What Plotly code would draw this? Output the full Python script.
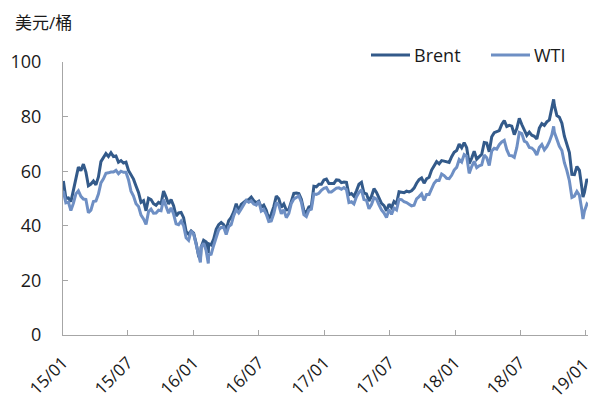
import pandas as pd
import plotly.graph_objects as go

# Weekly (Friday) closing prices, USD/bbl, 2015-01-02 .. 2019-01-04
brent_weekly = [
    # 2015
    56.4, 50.1, 50.2, 48.8, 53.0, 57.8, 61.5, 60.2, 62.6, 59.7, 54.7, 55.3, 56.4,
    55.0, 57.9, 63.5, 65.3, 66.5, 65.4, 66.8, 65.4, 65.6, 63.3, 63.9, 63.0, 63.3,
    60.3, 58.7, 57.1, 54.6, 52.2, 48.6, 49.2, 45.5, 50.1, 49.6, 48.1, 47.5, 48.6,
    48.1, 52.7, 50.5, 48.0, 49.6, 47.4, 43.6, 44.7, 44.9, 43.0, 37.9, 36.9, 38.1,
    # 2016
    37.3, 33.6, 28.9, 32.2, 34.7, 34.1, 33.4, 33.0, 35.1, 38.7, 40.4, 41.2, 40.4,
    38.7, 41.9, 43.1, 45.1, 48.1, 45.4, 47.8, 48.7, 49.3, 49.6, 50.5, 49.2, 48.4,
    49.0, 46.8, 47.6, 45.7, 42.5, 44.3, 47.0, 50.9, 49.9, 46.8, 48.0, 45.8, 45.9,
    49.1, 51.9, 52.0, 51.8, 49.7, 45.6, 44.8, 46.9, 47.2, 54.5, 54.3, 55.2, 55.2,
    56.8,
    # 2017
    57.1, 55.5, 55.5, 55.5, 56.8, 56.7, 55.8, 56.0, 55.9, 51.4, 51.8, 50.8, 52.8,
    55.2, 55.9, 52.0, 51.7, 49.1, 50.8, 53.6, 52.2, 50.0, 48.2, 47.4, 45.5, 47.9,
    46.7, 48.9, 48.1, 52.5, 52.4, 52.1, 52.7, 52.4, 52.8, 53.8, 55.6, 56.9, 57.5,
    55.6, 57.2, 57.8, 60.4, 62.1, 63.5, 62.7, 63.9, 63.7, 63.4, 63.2, 65.3, 66.9,
    # 2018
    67.6, 69.9, 68.6, 70.5, 68.6, 62.8, 64.8, 67.3, 64.4, 65.5, 66.2, 70.5, 70.3,
    67.1, 72.6, 74.1, 74.6, 74.9, 77.1, 78.5, 76.4, 76.8, 76.5, 73.4, 75.6, 79.4,
    77.1, 75.3, 73.1, 74.3, 73.2, 72.8, 71.8, 75.8, 77.4, 76.8, 78.1, 78.8, 82.7,
    84.2, 80.4, 79.8, 77.6, 72.8, 70.2, 66.8, 58.8, 58.7, 61.7, 60.3, 53.8, 52.2,
    # 2019
    57.1,
]

wti_weekly = [
    # 2015
    52.7, 48.4, 48.7, 45.6, 48.2, 51.7, 52.8, 50.8, 49.8, 49.6, 44.8, 45.7, 48.9,
    49.1, 51.6, 55.7, 57.2, 59.2, 59.4, 59.7, 59.7, 60.3, 59.1, 60.0, 59.6, 59.6,
    56.9, 52.7, 50.9, 48.1, 47.1, 43.9, 42.5, 40.5, 45.2, 46.1, 44.6, 44.7, 45.7,
    45.5, 49.6, 47.3, 44.6, 46.6, 44.3, 40.7, 40.4, 41.7, 40.0, 35.6, 34.7, 38.1,
    # 2016
    37.0, 33.2, 29.4, 32.2, 33.6, 30.9, 29.4, 29.6, 32.8, 35.9, 38.5, 39.4, 39.5,
    36.8, 39.7, 40.4, 43.7, 45.9, 44.7, 46.2, 47.8, 49.3, 48.6, 49.1, 48.0, 47.6,
    49.0, 45.4, 46.0, 44.2, 41.6, 41.8, 44.5, 48.5, 47.6, 44.4, 45.9, 43.0, 44.5,
    48.2, 49.8, 50.4, 50.9, 48.7, 44.1, 43.4, 45.7, 46.1, 51.7, 51.5, 51.9, 53.0,
    53.7,
    # 2017
    54.0, 52.4, 52.4, 53.2, 53.8, 53.9, 53.4, 54.0, 53.3, 48.5, 48.8, 48.0, 50.6,
    52.2, 53.2, 49.6, 49.3, 46.2, 47.8, 50.3, 49.8, 47.7, 45.8, 44.7, 43.0, 46.0,
    44.2, 46.5, 45.8, 49.7, 49.6, 48.8, 48.5, 47.9, 47.3, 47.5, 49.9, 50.7, 51.7,
    49.3, 51.5, 51.5, 53.9, 55.6, 56.7, 56.6, 59.0, 58.4, 57.4, 57.3, 58.5, 60.4,
    # 2018
    61.4, 64.3, 63.4, 66.1, 65.5, 59.2, 61.7, 63.6, 61.3, 62.0, 62.3, 65.9, 64.9,
    62.1, 67.4, 68.4, 68.1, 69.7, 70.7, 71.3, 67.9, 65.8, 65.7, 65.1, 68.6, 74.2,
    73.8, 71.0, 70.5, 68.7, 68.5, 67.6, 65.9, 68.7, 69.8, 67.8, 69.0, 70.8, 73.3,
    74.3, 71.3, 69.1, 67.6, 63.1, 60.2, 56.5, 50.4, 50.9, 52.6, 51.2, 45.6, 45.3,
    # 2019
    48.0,
]

# A few daily closes at the turning points
extra_dates = ["2016-01-20", "2016-02-11", "2018-10-03", "2018-12-24", "2019-01-07"]
extra_brent = [27.9, 30.1, 86.3, 50.5, 56.2]
extra_wti = [26.6, 26.2, 76.4, 42.5, 47.6]

tick_vals = ["2015-01-01", "2015-07-01", "2016-01-01", "2016-07-01", "2017-01-01",
             "2017-07-01", "2018-01-01", "2018-07-01", "2019-01-01"]
tick_text = ["15/01", "15/07", "16/01", "16/07", "17/01", "17/07", "18/01", "18/07", "19/01"]

series_names = ["Brent", "WTI"]
series_colors = ["#335A8A", "#6E8FC4"]

weeks = pd.date_range("2015-01-02", "2019-01-04", freq="W-FRI")
assert len(weeks) == len(brent_weekly) == len(wti_weekly)

df = pd.concat([
    pd.DataFrame({"date": weeks, "brent": brent_weekly, "wti": wti_weekly}),
    pd.DataFrame({"date": pd.to_datetime(extra_dates), "brent": extra_brent, "wti": extra_wti}),
]).sort_values("date")

FONT = "Open Sans, Noto Sans CJK SC, sans-serif"
AXIS_GREY = "#A6A6A6"

# plot-area geometry in pixels, used to place the key and the unit label
W, H = 590, 401
L, R, T, B = 63, 2, 62, 66
PW, PH = W - L - R, H - T - B


def px_x(px):
    return (px - L) / PW


def px_y(py):
    return (H - B - py) / PH


fig = go.Figure()
for col, name, color in zip(["brent", "wti"], series_names, series_colors):
    fig.add_trace(go.Scatter(x=df["date"], y=df[col], name=name, mode="lines",
                             line=dict(color=color, width=3), showlegend=False))

# key drawn above the plot area, top right
shapes, annotations = [], []
key_x0 = [371, 491]
for x0, name, color in zip(key_x0, series_names, series_colors):
    shapes.append(dict(type="line", xref="paper", yref="paper",
                       x0=px_x(x0), x1=px_x(x0 + 39), y0=px_y(55), y1=px_y(55),
                       line=dict(color=color, width=3)))
    annotations.append(dict(text=name, xref="paper", yref="paper",
                            x=px_x(x0 + 41), y=px_y(55), xanchor="left", yanchor="middle",
                            showarrow=False, font=dict(size=18)))

annotations.append(dict(text="美元/桶", xref="paper", yref="paper",
                        x=px_x(13), y=px_y(22), xanchor="left", yanchor="middle",
                        showarrow=False, font=dict(size=17)))

# the last date label is nudged slightly inward so it stays on the page
shown_ticks = tick_text[:-1] + [tick_text[-1] + "\u2009"]

fig.update_layout(
    width=W, height=H,
    margin=dict(l=L, r=R, t=T, b=B),
    paper_bgcolor="white", plot_bgcolor="white",
    font=dict(family=FONT, size=18, color="#1A1A1A"),
    showlegend=False,
    xaxis=dict(type="date", range=["2015-01-01", "2019-01-07"],
               tickvals=tick_vals, ticktext=shown_ticks, tickangle=-45,
               tickfont=dict(size=17),
               showline=True, linecolor=AXIS_GREY, linewidth=1,
               ticks="inside", ticklen=5, tickcolor=AXIS_GREY,
               ticklabelstandoff=10, ticklabeloverflow="allow",
               automargin=False,
               showgrid=False, zeroline=False),
    yaxis=dict(range=[0, 100], dtick=20,
               showline=True, linecolor=AXIS_GREY, linewidth=1,
               ticks="inside", ticklen=5, tickcolor=AXIS_GREY,
               ticklabelstandoff=17, automargin=False,
               showgrid=False, zeroline=False),
    shapes=shapes,
    annotations=annotations,
)

fig.write_html("out.html")
